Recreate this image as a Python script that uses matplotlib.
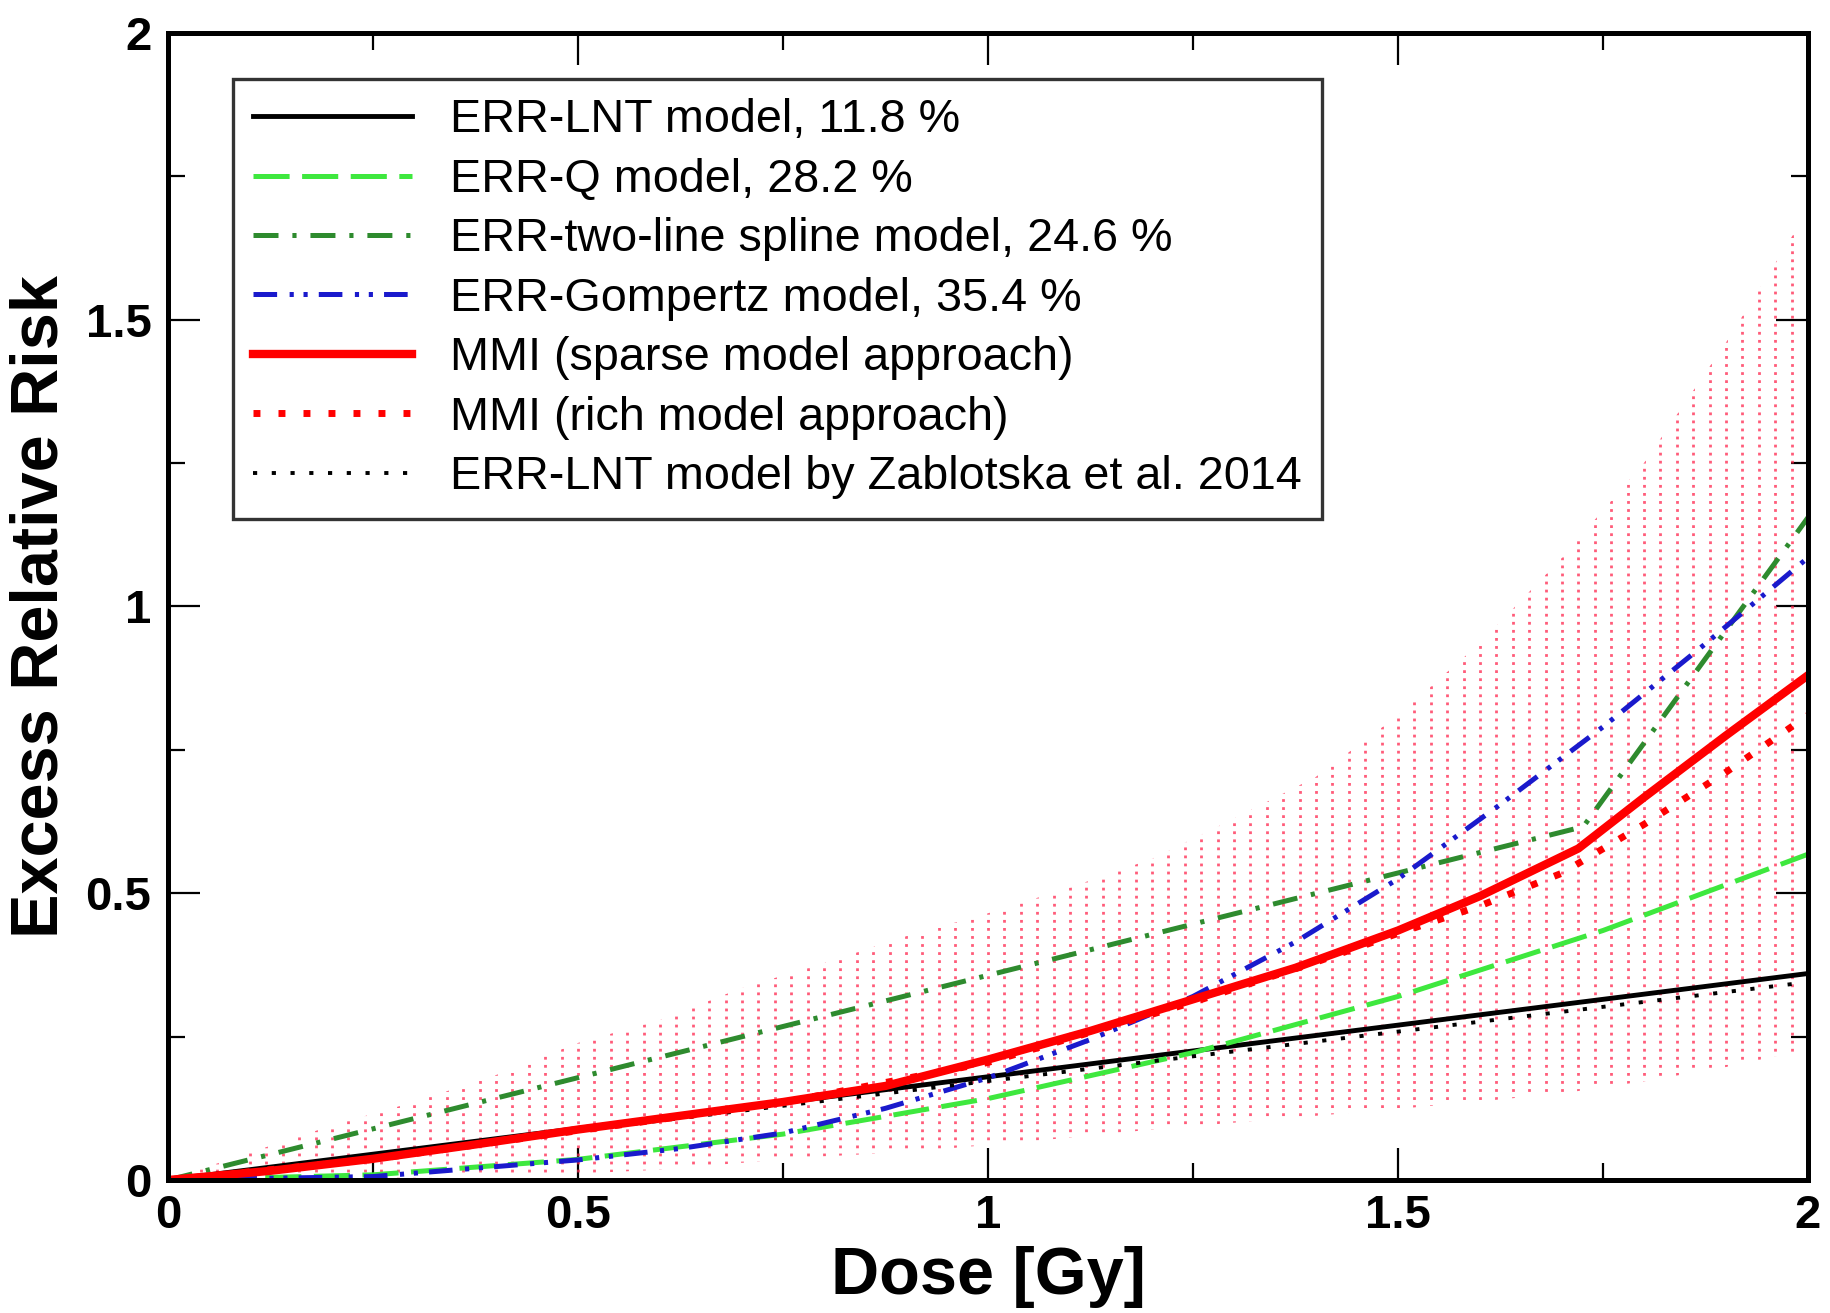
import matplotlib
matplotlib.use('Agg')
import matplotlib.pyplot as plt
import numpy as np

# doses (Gy) and excess relative risk
lnt_dose = [0.0, 2.0]
lnt_err = [0.0, 0.36]

zab_dose = [0.0, 2.0]
zab_err = [0.0, 0.345]

q_dose = [0.0, 0.25, 0.5, 0.75, 1.0, 1.25, 1.5, 1.75, 2.0]
q_err = [0.0, 0.009, 0.036, 0.08, 0.142, 0.222, 0.32, 0.435, 0.568]

spline_dose = [0.0, 1.726, 2.0]
spline_err = [0.0, 0.616, 1.155]

gomp_dose = [0.0, 0.25, 0.5, 0.625, 0.75, 0.875, 1.0, 1.125, 1.25,
             1.375, 1.5, 1.625, 1.75, 1.875, 2.0]
gomp_err = [0.0, 0.006, 0.035, 0.055, 0.082, 0.125, 0.178, 0.245, 0.32,
            0.415, 0.525, 0.655, 0.79, 0.935, 1.085]

sparse_dose = [0.0, 0.125, 0.25, 0.375, 0.5, 0.625, 0.75, 0.875, 1.0,
               1.125, 1.25, 1.375, 1.5, 1.6, 1.72, 1.8, 1.9, 2.0]
sparse_err = [0.0, 0.016, 0.037, 0.062, 0.088, 0.112, 0.136, 0.164, 0.21,
              0.26, 0.315, 0.37, 0.435, 0.495, 0.578, 0.667, 0.775, 0.88]

rich_dose = [0.0, 0.25, 0.5, 0.75, 1.0, 1.25, 1.4, 1.5, 1.6, 1.7, 1.8,
             1.9, 2.0]
rich_err = [0.0, 0.036, 0.086, 0.135, 0.205, 0.31, 0.38, 0.43, 0.478,
            0.535, 0.62, 0.711, 0.81]

# confidence band of the MMI estimate
band_dose = [0.0, 0.1, 0.2, 0.3, 0.4, 0.5, 0.6, 0.7, 0.8, 0.9, 1.0,
             1.1, 1.2, 1.3, 1.4, 1.5, 1.6, 1.7, 1.8, 1.9, 2.0]
band_low = [0.0, 0.0, 0.002, 0.004, 0.007, 0.011, 0.018, 0.03, 0.041,
            0.049, 0.061, 0.074, 0.088, 0.1, 0.112, 0.124, 0.137, 0.151,
            0.172, 0.197, 0.227]
band_high = [0.0, 0.048, 0.095, 0.136, 0.183, 0.239, 0.279, 0.335, 0.378,
             0.425, 0.465, 0.51, 0.56, 0.63, 0.703, 0.81, 0.936, 1.085,
             1.25, 1.46, 1.69]

tick_vals = [0, 0.5, 1, 1.5, 2]
tick_labels = ['0', '0.5', '1', '1.5', '2']

labels = ['ERR-LNT model, 11.8 %',
          'ERR-Q model, 28.2 %',
          'ERR-two-line spline model, 24.6 %',
          'ERR-Gompertz model, 35.4 %',
          'MMI (sparse model approach)',
          'MMI (rich model approach)',
          'ERR-LNT model by Zablotska et al. 2014']


def make_plot():
    plt.rcParams['font.family'] = ['Liberation Sans', 'DejaVu Sans']
    plt.rcParams['lines.scale_dashes'] = False

    fig = plt.figure(figsize=(18.31, 13.13), dpi=100)
    ax = fig.add_axes([0.0918, 0.1013, 0.8956, 0.8736])

    # dotted vertical hatching for the band, clipped to the band polygon
    poly = ax.fill_between(band_dose, band_low, band_high,
                           facecolor='none', edgecolor='none')
    hatch_x = np.arange(0.02, 2.0, 0.02)
    vl = ax.vlines(hatch_x, 0, 2, colors=[(1.0, 0.15, 0.3)], alpha=0.75,
                   linewidth=2.0, linestyles=[(0, (2.0, 3.8))])
    vl.set_clip_path(poly.get_paths()[0], ax.transData)

    h_lnt, = ax.plot(lnt_dose, lnt_err, color='black', lw=3.5)
    h_q, = ax.plot(q_dose, q_err, color='#3ee83e', lw=3.6,
                   linestyle=(0, (26, 9)))
    h_sp, = ax.plot(spline_dose, spline_err, color='#2e8b2e', lw=3.6,
                    linestyle=(0, (18, 10, 3, 10)))
    h_g, = ax.plot(gomp_dose, gomp_err, color='#1a1acc', lw=3.6,
                   linestyle=(0, (17, 9, 3, 7, 3, 8)))
    h_zab, = ax.plot(zab_dose, zab_err, color='black', lw=2.8,
                     linestyle=(0, (3, 10.5)))
    h_rich, = ax.plot(rich_dose, rich_err, color='red', lw=5.0,
                      linestyle=(0, (5, 13)))
    h_sp_mmi, = ax.plot(sparse_dose, sparse_err, color='red', lw=6.0)

    handles = [h_lnt, h_q, h_sp, h_g, h_sp_mmi, h_rich, h_zab]
    leg = ax.legend(handles, labels, loc='upper left',
                    bbox_to_anchor=(0.0396, 0.960), borderaxespad=0,
                    fontsize=33.7, handlelength=3.4, handletextpad=0.82,
                    labelspacing=0.33, borderpad=0.42, fancybox=False,
                    framealpha=1)
    leg.get_frame().set_edgecolor('#333333')
    leg.get_frame().set_linewidth(2.4)

    ax.set_xlim(0, 2)
    ax.set_ylim(0, 2)
    ax.set_xticks(tick_vals)
    ax.set_xticklabels(tick_labels)
    ax.set_yticks(tick_vals)
    ax.set_yticklabels(tick_labels)
    ax.set_xticks([0.25, 0.75, 1.25, 1.75], minor=True)
    ax.set_yticks([0.25, 0.75, 1.25, 1.75], minor=True)
    ax.tick_params(which='both', direction='in', top=True, right=True,
                   width=1.6, labelsize=34)
    ax.tick_params(which='major', length=23)
    ax.tick_params(which='minor', length=12)
    ax.tick_params(axis='x', pad=10)
    ax.tick_params(axis='y', pad=12)
    for lab in ax.get_xticklabels() + ax.get_yticklabels():
        lab.set_fontweight('bold')
    for sp in ax.spines.values():
        sp.set_linewidth(3.6)

    ax.set_xlabel('Dose [Gy]', fontsize=48, fontweight='bold', labelpad=6)
    ax.set_ylabel('Excess Relative Risk', fontsize=48, fontweight='bold',
                  labelpad=10)
    return fig


if __name__ == '__main__':
    fig = make_plot()
    fig.savefig('out.png', dpi=100)
